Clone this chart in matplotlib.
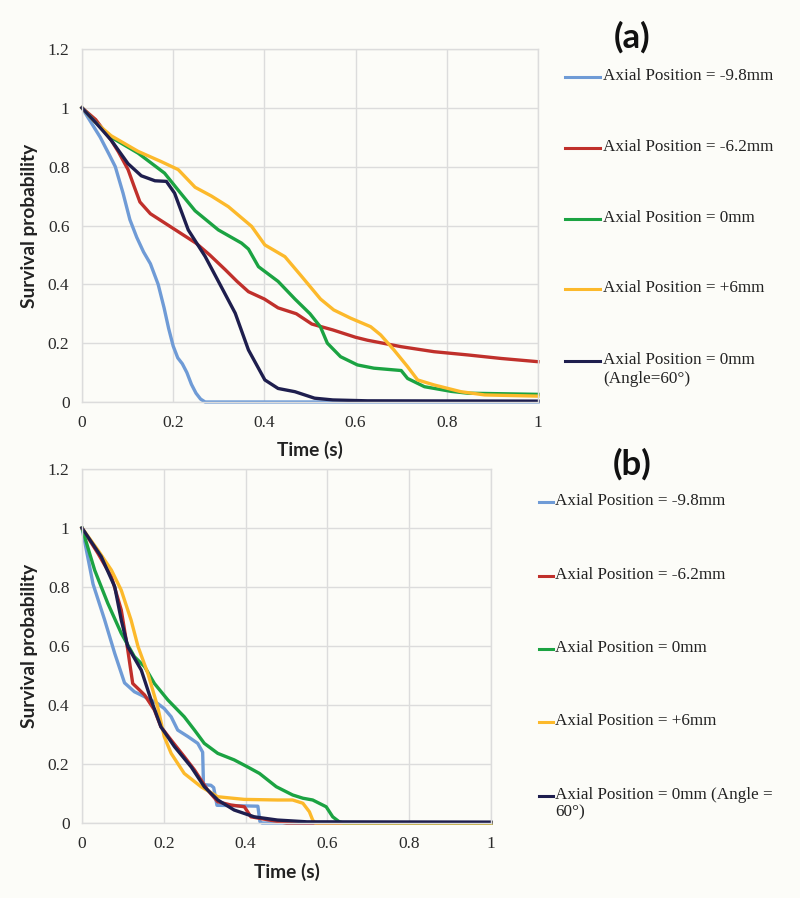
import matplotlib
matplotlib.use("Agg")
import matplotlib.pyplot as plt
from matplotlib.lines import Line2D

# ---------------- data: panel (a) ----------------
a_blue_t = [0, 0.02, 0.04, 0.06, 0.073, 0.09, 0.105, 0.12, 0.135, 0.15, 0.167, 0.18, 0.19, 0.20, 0.21, 0.22, 0.23, 0.24, 0.25, 0.26, 0.27, 1.0]
a_blue_p = [1, 0.95, 0.90, 0.84, 0.80, 0.71, 0.62, 0.56, 0.51, 0.47, 0.40, 0.32, 0.25, 0.19, 0.15, 0.13, 0.10, 0.06, 0.03, 0.01, 0.0, 0.0]

a_red_t = [0, 0.03, 0.064, 0.08, 0.101, 0.115, 0.127, 0.15, 0.18, 0.21, 0.25, 0.28, 0.314, 0.34, 0.365, 0.40, 0.43, 0.47, 0.504, 0.55, 0.60, 0.626, 0.70, 0.772, 0.846, 0.919, 1.0]
a_red_p = [1, 0.96, 0.89, 0.85, 0.79, 0.73, 0.68, 0.64, 0.61, 0.58, 0.54, 0.50, 0.45, 0.41, 0.375, 0.35, 0.32, 0.30, 0.265, 0.245, 0.22, 0.21, 0.188, 0.171, 0.16, 0.148, 0.137]

a_green_t = [0, 0.03, 0.064, 0.123, 0.181, 0.211, 0.248, 0.299, 0.35, 0.365, 0.387, 0.43, 0.467, 0.50, 0.523, 0.538, 0.567, 0.604, 0.64, 0.70, 0.714, 0.751, 0.81, 0.846, 1.0]
a_green_p = [1, 0.95, 0.90, 0.846, 0.778, 0.72, 0.65, 0.585, 0.54, 0.52, 0.46, 0.41, 0.35, 0.30, 0.255, 0.20, 0.154, 0.126, 0.115, 0.107, 0.08, 0.052, 0.036, 0.03, 0.026]

a_yellow_t = [0, 0.03, 0.064, 0.123, 0.174, 0.211, 0.248, 0.284, 0.321, 0.372, 0.401, 0.445, 0.48, 0.523, 0.552, 0.589, 0.633, 0.655, 0.684, 0.714, 0.736, 0.772, 0.831, 0.883, 1.0]
a_yellow_p = [1, 0.95, 0.905, 0.852, 0.817, 0.79, 0.73, 0.70, 0.664, 0.597, 0.534, 0.494, 0.43, 0.35, 0.313, 0.285, 0.256, 0.228, 0.177, 0.12, 0.075, 0.058, 0.035, 0.024, 0.02]

a_navy_t = [0, 0.03, 0.064, 0.101, 0.13, 0.16, 0.185, 0.203, 0.233, 0.27, 0.306, 0.336, 0.365, 0.401, 0.43, 0.467, 0.51, 0.55, 0.626, 1.0]
a_navy_p = [1, 0.95, 0.89, 0.81, 0.769, 0.752, 0.75, 0.71, 0.585, 0.495, 0.39, 0.302, 0.177, 0.075, 0.046, 0.035, 0.013, 0.007, 0.004, 0.003]

# ---------------- data: panel (b) ----------------
b_blue_t = [0, 0.01, 0.027, 0.055, 0.08, 0.104, 0.128, 0.153, 0.185, 0.201, 0.218, 0.234, 0.259, 0.283, 0.295, 0.297, 0.315, 0.322, 0.33, 0.43, 0.435, 0.44, 1.0]
b_blue_p = [1, 0.93, 0.81, 0.69, 0.575, 0.475, 0.445, 0.428, 0.405, 0.388, 0.36, 0.315, 0.293, 0.27, 0.24, 0.13, 0.128, 0.12, 0.06, 0.057, 0.005, 0.0, 0.0]

b_red_t = [0, 0.039, 0.072, 0.096, 0.112, 0.124, 0.153, 0.177, 0.193, 0.218, 0.25, 0.275, 0.307, 0.332, 0.364, 0.397, 0.413, 0.45, 0.5, 1.0]
b_red_p = [1, 0.914, 0.835, 0.722, 0.586, 0.473, 0.434, 0.383, 0.326, 0.281, 0.225, 0.18, 0.112, 0.072, 0.061, 0.055, 0.021, 0.012, 0.0, 0.0]

b_green_t = [0, 0.031, 0.063, 0.096, 0.128, 0.153, 0.177, 0.21, 0.25, 0.275, 0.299, 0.332, 0.372, 0.405, 0.434, 0.475, 0.515, 0.54, 0.564, 0.597, 0.613, 0.629, 0.64, 1.0]
b_green_p = [1, 0.857, 0.745, 0.643, 0.564, 0.53, 0.473, 0.417, 0.36, 0.315, 0.27, 0.236, 0.214, 0.19, 0.168, 0.123, 0.095, 0.084, 0.078, 0.055, 0.021, 0.004, 0.0, 0.0]

b_yellow_t = [0, 0.039, 0.072, 0.096, 0.12, 0.137, 0.161, 0.185, 0.201, 0.218, 0.25, 0.291, 0.332, 0.397, 0.478, 0.515, 0.54, 0.556, 0.564, 0.57, 1.0]
b_yellow_p = [1, 0.925, 0.857, 0.789, 0.688, 0.598, 0.507, 0.394, 0.293, 0.236, 0.168, 0.123, 0.089, 0.08, 0.078, 0.078, 0.067, 0.038, 0.01, 0.0, 0.0]

b_navy_t = [0, 0.047, 0.08, 0.096, 0.112, 0.145, 0.169, 0.193, 0.226, 0.267, 0.299, 0.332, 0.372, 0.421, 0.478, 0.55, 1.0]
b_navy_p = [1, 0.903, 0.801, 0.688, 0.598, 0.518, 0.417, 0.326, 0.259, 0.19, 0.123, 0.078, 0.044, 0.021, 0.01, 0.004, 0.003]

labels_a = ["Axial Position = -9.8mm", "Axial Position = -6.2mm", "Axial Position = 0mm",
            "Axial Position = +6mm", "Axial Position = 0mm\n(Angle=60\u00b0)"]
labels_b = ["Axial Position = -9.8mm", "Axial Position = -6.2mm", "Axial Position = 0mm",
            "Axial Position = +6mm", "Axial Position = 0mm (Angle =\n60\u00b0)"]

x_ticks = [0, 0.2, 0.4, 0.6, 0.8, 1.0]
x_ticklabels = ["0", "0.2", "0.4", "0.6", "0.8", "1"]
y_ticks = [0, 0.2, 0.4, 0.6, 0.8, 1.0, 1.2]
y_ticklabels = ["0", "0.2", "0.4", "0.6", "0.8", "1", "1.2"]

colors = ["#6f9bd6", "#c0302b", "#1ba342", "#fcb92b", "#1e1e4e"]

# ---------------- figure ----------------
W, H = 800, 898
bg = "#fcfcf8"
fig = plt.figure(figsize=(W / 100, H / 100), dpi=100, facecolor=bg)

serif = "Liberation Serif"
sans = "Lato"
grid_c = "#dcdcdc"


def px_ax(l, t, r, b):
    return fig.add_axes([l / W, 1 - b / H, (r - l) / W, (b - t) / H])


def style(ax):
    ax.set_facecolor(bg)
    ax.set_xlim(0, 1)
    ax.set_ylim(0, 1.2)
    ax.set_xticks(x_ticks)
    ax.set_xticklabels(x_ticklabels)
    ax.set_yticks(y_ticks)
    ax.set_yticklabels(y_ticklabels)
    ax.tick_params(length=0, labelsize=12.5, pad=9)
    for lab in ax.get_xticklabels() + ax.get_yticklabels():
        lab.set_fontfamily(serif)
        lab.set_color("#2a2a2a")
    ax.grid(True, color=grid_c, lw=1)
    ax.set_axisbelow(True)
    for s in ax.spines.values():
        s.set_color(grid_c)
        s.set_linewidth(1)


series_a = [(a_blue_t, a_blue_p), (a_red_t, a_red_p), (a_green_t, a_green_p),
            (a_yellow_t, a_yellow_p), (a_navy_t, a_navy_p)]
series_b = [(b_blue_t, b_blue_p), (b_red_t, b_red_p), (b_green_t, b_green_p),
            (b_yellow_t, b_yellow_p), (b_navy_t, b_navy_p)]

ax1 = px_ax(82, 49, 538, 402)
style(ax1)
for (t, p), c in zip(series_a, colors):
    ax1.plot(t, p, color=c, lw=2.4, solid_joinstyle="round", clip_on=False)

ax2 = px_ax(82, 469, 491, 823)
style(ax2)
for (t, p), c in zip(series_b, colors):
    ax2.plot(t, p, color=c, lw=2.4, solid_joinstyle="round", clip_on=False)

# axis labels
for ycen in [(49 + 402) / 2, (469 + 823) / 2]:
    fig.text(30 / W, 1 - ycen / H, "Survival probability", rotation=90,
             ha="center", va="center", fontsize=13.8, fontweight="bold",
             family=sans, color="#222222")
fig.text(310 / W, 1 - 450 / H, "Time (s)", ha="center", va="center",
         fontsize=13.8, fontweight="bold", family=sans, color="#222222")
fig.text(287 / W, 1 - 872 / H, "Time (s)", ha="center", va="center",
         fontsize=13.8, fontweight="bold", family=sans, color="#222222")

# panel letters
fig.text(632 / W, 1 - 37 / H, "(a)", ha="center", va="center", fontsize=25,
         fontweight="bold", family=sans, color="#111111")
fig.text(632 / W, 1 - 464 / H, "(b)", ha="center", va="center", fontsize=25,
         fontweight="bold", family=sans, color="#111111")

# legends (manual, Excel-like spacing)
leg_a_y = [77, 148, 219, 289, 361]
for yy, c, lab in zip(leg_a_y, colors, labels_a):
    fig.add_artist(Line2D([565 / W, 600 / W], [1 - yy / H, 1 - yy / H],
                          color=c, lw=2.2, transform=fig.transFigure))
    fig.text(603 / W, 1 - (yy - 9) / H, lab, ha="left", va="top",
             fontsize=12.3, family=serif, color="#222222", linespacing=1.25)

leg_b_y = [502, 576, 649, 722, 796]
for yy, c, lab in zip(leg_b_y, colors, labels_b):
    fig.add_artist(Line2D([539 / W, 553 / W], [1 - yy / H, 1 - yy / H],
                          color=c, lw=2.2, transform=fig.transFigure))
    fig.text(555 / W, 1 - (yy - 9) / H, lab, ha="left", va="top",
             fontsize=12.3, family=serif, color="#222222", linespacing=1.1)

fig.savefig("out.png", dpi=100, facecolor=bg)
